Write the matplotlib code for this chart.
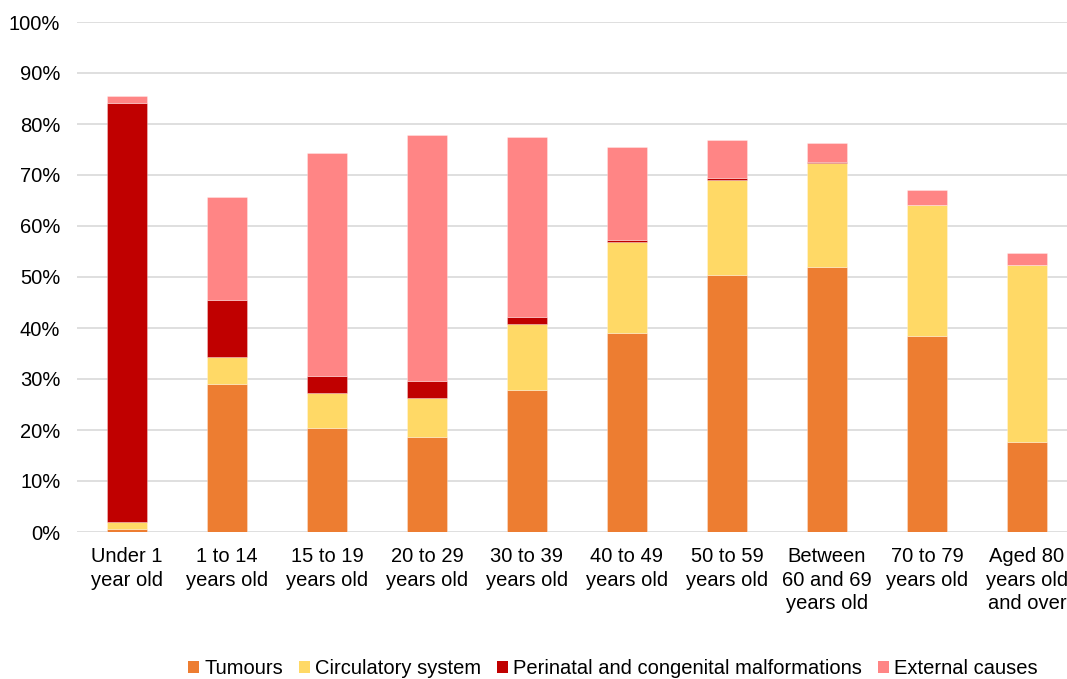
import matplotlib
matplotlib.use("Agg")
import matplotlib.pyplot as plt
import numpy as np
from matplotlib.patches import Patch

categories = ["Under 1\nyear old", "1 to 14\nyears old", "15 to 19\nyears old",
              "20 to 29\nyears old", "30 to 39\nyears old", "40 to 49\nyears old",
              "50 to 59\nyears old", "Between\n60 and 69\nyears old", "70 to 79\nyears old",
              "Aged 80\nyears old\nand over"]
tumours = [0.65, 29.0, 20.3, 18.6, 27.8, 39.1, 50.3, 52.0, 38.5, 17.6]
circulatory = [1.3, 5.3, 7.0, 7.7, 12.9, 17.7, 18.8, 20.4, 25.7, 34.8]
perinatal = [82.1, 11.2, 3.2, 3.4, 1.4, 0.5, 0.4, 0.15, 0.0, 0.0]
external = [1.4, 20.2, 43.8, 48.1, 35.3, 18.1, 7.4, 3.7, 2.9, 2.4]
series_names = ["Tumours", "Circulatory system", "Perinatal and congenital malformations", "External causes"]
colors = ["#ED7D31", "#FFD966", "#C00000", "#FF8585"]

plt.rcParams['font.family'] = ['Liberation Sans', 'DejaVu Sans']

W, H = 1067, 679
fig = plt.figure(figsize=(W / 100, H / 100), dpi=100)
ax = fig.add_axes([77 / W, (H - 532) / H, 1000 / W, 510 / H])

x = np.arange(len(categories))
bottom = np.zeros(len(categories))
for vals, c in zip([tumours, circulatory, perinatal, external], colors):
    v = np.array(vals)
    ax.bar(x, v, bottom=bottom, width=0.4, color=c, edgecolor=(1, 1, 1, 0.35), linewidth=0.6, zorder=3)
    bottom += v

ax.set_xlim(-0.5, len(categories) - 0.5)
ax.set_ylim(0, 100)
ax.set_yticks(np.arange(0, 101, 10))
ax.set_yticklabels([f"{t}%" for t in range(0, 101, 10)], fontsize=14.5, color="#000000")
ax.set_xticks(x)
ax.set_xticklabels(categories, fontsize=14.5, color="#000000", linespacing=1.3, va="top")
ax.tick_params(axis="both", length=0)
ax.tick_params(axis="x", pad=11)
ax.tick_params(axis="y", pad=12)
ax.grid(axis="y", color="#D9D9D9", linewidth=1.2, zorder=0)
for s in ax.spines.values():
    s.set_visible(False)

handles = [Patch(facecolor=c, edgecolor="none") for c in colors]
fig.legend(handles, series_names, loc="center", bbox_to_anchor=(613 / W, (H - 669) / H),
           ncol=4, frameon=False, fontsize=14.5, handlelength=0.55, handleheight=0.55,
           handletextpad=0.25, columnspacing=0.8)

fig.savefig("out.png", dpi=100)
